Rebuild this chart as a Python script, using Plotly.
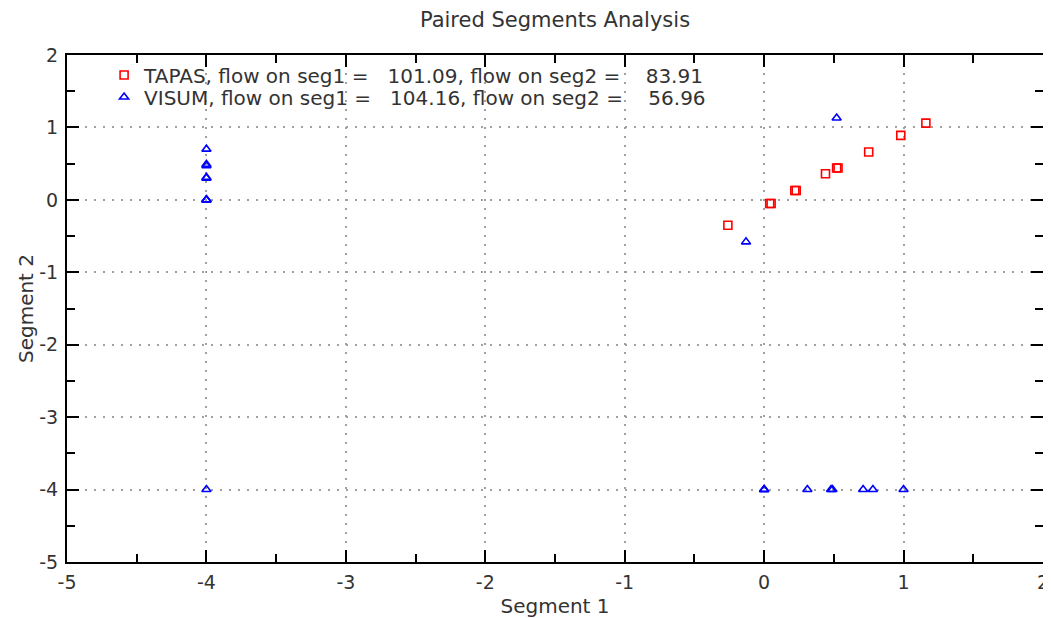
import plotly.graph_objects as go

# TAPAS points (segment 1 vs segment 2)
tapas_x = [-0.26, 0.04, 0.05, 0.22, 0.23, 0.44, 0.52, 0.53, 0.75, 0.98, 1.16]
tapas_y = [-0.35, -0.05, -0.05, 0.13, 0.13, 0.36, 0.44, 0.44, 0.66, 0.89, 1.06]

# VISUM points
visum_x = [-4.0, -4.0, -4.0, -4.0, -4.0, -4.0, -4.0, -4.0, -4.0, 0.52, -0.13,
           0.0, 0.0, 0.0, 0.31, 0.48, 0.49, 0.71, 0.78, 1.0]
visum_y = [0.70, 0.49, 0.47, 0.31, 0.30, 0.0, 0.0, 0.0, -4.0, 1.13, -0.58,
           -4.0, -4.0, -4.0, -4.0, -4.0, -4.0, -4.0, -4.0, -4.0]

# axis ticks (hyphen minus like the original)
tick_vals = [-5, -4, -3, -2, -1, 0, 1, 2]
tick_text = ['-5', '-4', '-3', '-2', '-1', '0', '1', '2']

nb = '\u00a0'
tapas_name = 'TAPAS, flow on seg1 =' + nb * 3 + '101.09, flow on seg2 =' + nb * 4 + '83.91'
visum_name = 'VISUM, flow on seg1 =' + nb * 3 + '104.16, flow on seg2 =' + nb * 4 + '56.96'

font_main = 'DejaVu Sans'
text_col = '#333333'

# page body adds an 8px margin, so the figure is a bit smaller than the window
W, H = 1043, 610

fig = go.Figure()
fig.add_trace(go.Scatter(
    x=tapas_x, y=tapas_y, mode='markers', name=tapas_name, legend='legend',
    marker=dict(symbol='square-open', size=8, color='#ff0000', line=dict(width=1.6, color='#ff0000'))
))
fig.add_trace(go.Scatter(
    x=visum_x, y=visum_y, mode='markers', name=visum_name, legend='legend2',
    marker=dict(symbol='triangle-up-open', size=8, color='#0000ff', line=dict(width=1.6, color='#0000ff'))
))
# same VISUM points on the top/right axes (invisible) so those tick axes get drawn
fig.add_trace(go.Scatter(x=visum_x, y=visum_y, xaxis='x2', yaxis='y2', mode='markers',
                         marker=dict(opacity=0), showlegend=False, hoverinfo='skip'))

tick_style = dict(
    type='linear', range=[-5, 2], automargin=False,
    ticks='inside', ticklen=12, tickwidth=2, tickcolor='black',
    tickmode='array', tickvals=tick_vals, ticktext=tick_text,
    zeroline=False,
    minor=dict(ticks='inside', ticklen=8, tickwidth=2, tickcolor='black', dtick=0.5, showgrid=False),
)
axis_common = dict(
    showline=True, linecolor='black', linewidth=2, mirror='allticks',
    showgrid=True, gridcolor='#a0a0a0', griddash='2px,7px', gridwidth=2,
    tickfont=dict(family=font_main, size=19, color=text_col),
    **tick_style,
)
# top / right copies, ticks only
mirror_axis = dict(showline=False, showgrid=False, showticklabels=False, **tick_style)

legend_common = dict(x=0.038, xanchor='left', yanchor='middle', bgcolor='rgba(0,0,0,0)',
                     font=dict(family=font_main, size=20, color=text_col))

fig.update_layout(
    width=W, height=H,
    paper_bgcolor='white', plot_bgcolor='white',
    margin=dict(l=59, r=8, t=47, b=56),
    title=dict(text='Paired Segments Analysis', x=0.5, xref='paper', y=1 - 12 / H, yanchor='middle',
               font=dict(family=font_main, size=21, color=text_col)),
    xaxis=dict(title=dict(text='Segment 1', standoff=9,
               font=dict(family=font_main, size=20, color=text_col)), ticklabelstandoff=2, **axis_common),
    yaxis=dict(title=dict(text='Segment 2', standoff=0,
               font=dict(family=font_main, size=20, color=text_col)), ticklabelstandoff=3, **axis_common),
    xaxis2=dict(overlaying='x', side='top', anchor='y2', **mirror_axis),
    yaxis2=dict(overlaying='y', side='right', anchor='x2', **mirror_axis),
    legend=dict(y=0.9606, **legend_common),
    legend2=dict(y=0.9172, **legend_common),
    showlegend=True,
)

fig.write_html("out.html")
